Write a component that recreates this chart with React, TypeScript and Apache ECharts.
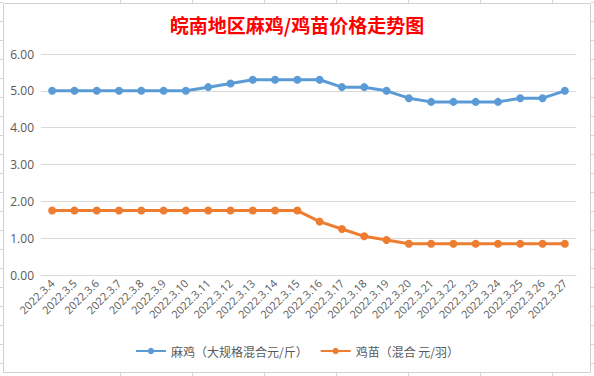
import React, { useEffect, useRef } from "react";
import * as echarts from "echarts";

const categories = [
  "2022.3.4", "2022.3.5", "2022.3.6", "2022.3.7", "2022.3.8", "2022.3.9",
  "2022.3.10", "2022.3.11", "2022.3.12", "2022.3.13", "2022.3.14", "2022.3.15",
  "2022.3.16", "2022.3.17", "2022.3.18", "2022.3.19", "2022.3.20", "2022.3.21",
  "2022.3.22", "2022.3.23", "2022.3.24", "2022.3.25", "2022.3.26", "2022.3.27",
];
const maJi = [
  5.0, 5.0, 5.0, 5.0, 5.0, 5.0, 5.0, 5.1, 5.2, 5.3, 5.3, 5.3,
  5.3, 5.1, 5.1, 5.0, 4.8, 4.7, 4.7, 4.7, 4.7, 4.8, 4.8, 5.0,
];
const jiMiao = [
  1.75, 1.75, 1.75, 1.75, 1.75, 1.75, 1.75, 1.75, 1.75, 1.75, 1.75, 1.75,
  1.45, 1.25, 1.05, 0.95, 0.85, 0.85, 0.85, 0.85, 0.85, 0.85, 0.85, 0.85,
];
const seriesNames = ["麻鸡（大规格混合元/斤）", "鸡苗（混合 元/羽）"];
const titleText = "皖南地区麻鸡/鸡苗价格走势图";

const cellCols = [120, 192, 264, 336, 408, 480, 552];
const cellRows = [2, 21, 40, 59, 78, 97, 116, 135, 154, 173, 192, 211, 230, 249, 268, 287, 306, 325, 344, 363];

export default function App() {
  const ref = useRef<HTMLDivElement>(null);
  useEffect(() => {
    document.body.style.margin = "0";
    if (!ref.current) return;
    const chart = echarts.init(ref.current, undefined, { renderer: "svg" });
    const cellColor = "#D4D4DC";
    const bg: any[] = [];
    cellCols.forEach((x) => {
      bg.push({ type: "line", z: -10, shape: { x1: x + 0.5, y1: 0, x2: x + 0.5, y2: 3 }, style: { stroke: cellColor, lineWidth: 1 } });
      bg.push({ type: "line", z: -10, shape: { x1: x + 0.5, y1: 373, x2: x + 0.5, y2: 376 }, style: { stroke: cellColor, lineWidth: 1 } });
    });
    cellRows.forEach((y) => {
      bg.push({ type: "line", z: -10, shape: { x1: 0, y1: y + 0.5, x2: 3, y2: y + 0.5 }, style: { stroke: cellColor, lineWidth: 1 } });
      bg.push({ type: "line", z: -10, shape: { x1: 591, y1: y + 0.5, x2: 594, y2: y + 0.5 }, style: { stroke: cellColor, lineWidth: 1 } });
    });
    bg.push({
      type: "rect", z: -5,
      shape: { x: 3.5, y: 3.5, width: 587, height: 369 },
      style: { fill: "#FFFFFF", stroke: "#D0D0D8", lineWidth: 1 },
    });
    chart.setOption({
      animation: false,
      backgroundColor: "#FFFFFF",
      title: {
        text: titleText,
        left: "center",
        top: 10,
        textStyle: { color: "#FF0000", fontSize: 19, fontWeight: "bold", fontFamily: "Noto Sans CJK SC" },
      },
      graphic: bg,
      legend: {
        bottom: 14,
        left: "center",
        itemWidth: 30,
        itemHeight: 8,
        itemGap: 12,
        textStyle: { color: "#595959", fontSize: 12, fontFamily: "Noto Sans CJK SC" },
        data: seriesNames,
      },
      grid: { left: 41, right: 18, top: 54, bottom: 101, containLabel: false },
      xAxis: {
        type: "category",
        data: categories,
        boundaryGap: true,
        axisLine: { show: true, lineStyle: { color: "#D9D9D9" } },
        axisTick: { show: false },
        axisLabel: {
          rotate: 45,
          interval: 0,
          color: "#595959",
          fontSize: 11,
          margin: 6,
          fontFamily: "Open Sans",
        },
      },
      yAxis: {
        type: "value",
        min: 0,
        max: 6,
        interval: 1,
        axisLine: { show: false },
        axisTick: { show: false },
        splitLine: { lineStyle: { color: "#D9D9D9" } },
        axisLabel: {
          color: "#595959",
          fontSize: 12,
          margin: 7,
          fontFamily: "Open Sans",
          formatter: (v: number) => v.toFixed(2),
        },
      },
      series: [
        {
          name: seriesNames[0],
          type: "line",
          data: maJi,
          symbol: "circle",
          symbolSize: 8,
          lineStyle: { width: 3, color: "#5B9BD5" },
          itemStyle: { color: "#5B9BD5" },
        },
        {
          name: seriesNames[1],
          type: "line",
          data: jiMiao,
          symbol: "circle",
          symbolSize: 8,
          lineStyle: { width: 3, color: "#ED7D31" },
          itemStyle: { color: "#ED7D31" },
        },
      ],
    });
    return () => chart.dispose();
  }, []);
  return <div ref={ref} style={{ width: 594, height: 376 }} />;
}
